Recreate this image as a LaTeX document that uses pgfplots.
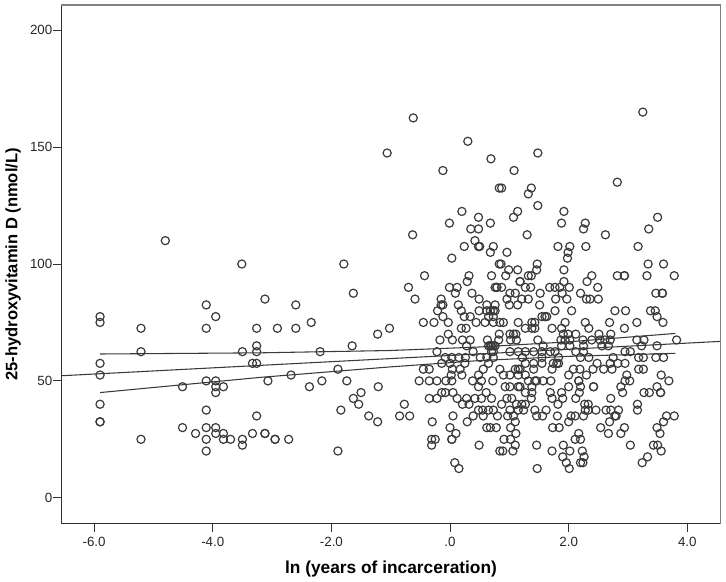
\documentclass[border=0pt]{standalone}
\usepackage{fontspec}
\setmainfont{Liberation Sans}
\usepackage{pgfplots}
\pgfplotsset{compat=1.18}
\definecolor{ax}{HTML}{303030}
\definecolor{fr}{HTML}{808080}
\definecolor{pt}{HTML}{3A3A3A}
\begin{document}
\begin{tikzpicture}
\begin{axis}[
 at={(0pt,0pt)},anchor=south west,
 scale only axis,width=494.25pt,height=389pt,
 xmin=-6.55,xmax=4.56,ymin=-11.1,ymax=210.8,
 axis line style={draw=none},
 clip=false,
 tick align=outside,
 xtick={-6,-4,-2,0,2,4},
 xticklabels={-6.0,-4.0,-2.0,.0,2.0,4.0},
 ytick={0,50,100,150,200},
 yticklabels={0,50,100,150,200},
 major tick length=6pt,
 tick style={draw=ax,line width=0.75pt},
 xtick pos=bottom,ytick pos=left,
 tick label style={font=\fontsize{10}{12}\selectfont,text=black!85},
 xticklabel style={yshift=-0.5pt},
 yticklabel style={xshift=2.6pt},
 xlabel={\bfseries ln (years of incarceration)},
 ylabel={\bfseries 25-hydroxyvitamin D (nmol/L)},
 xlabel style={font=\fontsize{13}{15}\selectfont,at={(axis description cs:0.5,0)},anchor=base,yshift=-37pt},
 ylabel style={font=\fontsize{12.4}{15}\selectfont,at={(axis description cs:0,0.5)},anchor=base,yshift=33pt},
]
\addplot[only marks,mark=o,mark size=3.05pt,mark options={draw=pt,line width=0.9pt},forget plot] coordinates {
(-5.9,77.5)(-5.9,75)(-5.9,57.5)(-5.9,52.5)(-5.9,40)(-5.9,32.5)(-5.9,32.5)
(-5.21,72.5)(-5.21,62.5)(-5.21,25)(-4.51,47.5)(-4.51,30)(-4.29,27.5)
(-4.11,82.5)(-4.11,72.5)(-4.11,50)(-4.11,37.5)(-4.11,30)(-4.11,25)(-4.11,20)
(-3.95,77.5)(-3.95,50)(-3.95,47.5)(-3.95,45)(-3.95,30)(-3.95,27.5)
(-3.82,47.5)(-3.82,27.5)(-3.82,25)(-3.70,25)(-3.50,62.5)(-3.50,25)(-3.50,22.5)
(-3.33,27.5)(-3.33,57.5)(-3.26,57.5)(-3.26,72.5)(-3.26,65)(-3.26,62.5)(-3.26,35)
(-3.12,85)(-3.12,27.5)(-3.07,50)(-2.95,25)(-2.91,72.5)(-4.80,110)(-3.51,100)
(-2.60,82.5)(-2.60,72.5)(-2.34,75)(-2.19,62.5)(-1.65,65)(-1.22,70)(-1.02,72.5)
(-2.68,52.5)(-2.37,47.5)(-2.16,50)(-1.89,55)(-1.74,50)(-1.50,45)(-1.63,42.5)(-1.54,40)
(-1.21,47.5)(-1.84,37.5)(-1.37,35)(-1.22,32.5)(-0.77,40)(-0.85,35)(-0.68,35)(-1.89,20)
(-3.12,27.5)(-2.95,25)(-2.72,25)
(-0.62,162.5)(0.30,152.5)(-1.06,147.5)(0.69,145)(-0.12,140)(0.83,132.5)(0.20,122.5)(0.48,120)
(-0.01,117.5)(0.68,117.5)(0.35,115)(0.48,115)(-0.63,112.5)(0.42,110)(0.24,107.5)(0.48,107.5)(0.50,107.5)(0.73,107.5)
(0.68,105)(0.03,102.5)(-1.79,100)(0.83,100)(0.32,95)(-0.43,95)(0.70,95)(0.29,92.5)
(-0.70,90)(-0.01,90)(0.12,90)(0.79,90)(0.79,90)(0.09,87.5)(0.37,87.5)(-1.63,87.5)(-0.59,85)(-0.15,85)(0.49,85)
(3.25,165)(1.48,147.5)(1.08,140)(0.87,132.5)(1.37,132.5)(1.32,130)(2.82,135)(1.48,125)(1.14,122.5)(1.07,120)
(1.92,122.5)(1.88,117.5)(2.28,117.5)(2.25,115)(3.50,120)(3.35,115)(1.30,112.5)(2.62,112.5)
(1.82,107.5)(2.02,107.5)(2.29,107.5)(3.17,107.5)(0.96,105)(1.99,105)(1.98,102.5)
(0.86,100)(1.47,100)(3.34,100)(3.60,100)(0.99,97.5)(1.14,97.5)(1.46,97.5)(1.92,97.5)
(0.94,95)(1.32,95)(1.37,95)(2.39,95)(2.82,95)(2.94,95)(2.94,95)(3.32,95)(3.78,95)
(1.18,92.5)(1.18,92.5)(1.92,92.5)(2.31,92.5)(0.76,90)(0.87,90)(1.27,90)(1.36,90)(1.68,90)(1.77,90)(1.85,90)(2.01,90)(2.49,90)
(1.01,87.5)(1.10,87.5)(1.52,87.5)(1.89,87.5)(2.20,87.5)(3.47,87.5)(3.58,87.5)(3.58,87.5)
(0.96,85)(1.21,85)(1.32,85)(1.78,85)(1.97,85)(2.30,85)(2.36,85)(2.50,85)
(0.76,82.5)(1.00,82.5)(1.14,82.5)(1.51,82.5)(-0.12,82.5)(0.14,82.5)(-0.15,82.5)(0.62,82.5)
(0.68,80)(0.76,80)(1.77,80)(2.05,80)(2.78,80)(2.96,80)(3.38,80)(3.46,80)(-0.21,80)(0.19,80)(0.49,80)(0.62,80)(0.73,80)
(1.55,77.5)(1.60,77.5)(1.63,77.5)(3.49,77.5)(-0.12,77.5)(0.24,77.5)(0.34,77.5)(0.65,77.5)(0.73,77.5)
(0.73,75)(0.84,75)(0.90,75)(1.15,75)(1.38,75)(1.43,75)(1.94,75)(2.28,75)(2.69,75)(3.15,75)(3.59,75)(-0.45,75)(-0.27,75)(-0.03,75)(0.44,75)(0.59,75)
(1.27,72.5)(1.38,72.5)(1.43,72.5)(1.72,72.5)(1.88,72.5)(2.34,72.5)(2.94,72.5)(0.19,72.5)(0.27,72.5)
(0.83,70)(1.01,70)(1.07,70)(1.11,70)(1.91,70)(1.99,70)(2.12,70)(2.51,70)(2.71,70)(-0.03,70)
(0.82,67.5)(1.02,67.5)(1.12,67.5)(1.48,67.5)(1.87,67.5)(1.94,67.5)(2.02,67.5)(2.24,67.5)(2.39,67.5)(2.53,67.5)(2.61,67.5)(2.70,67.5)(3.15,67.5)(3.27,67.5)(3.82,67.5)(-0.17,67.5)(0.04,67.5)(0.21,67.5)(0.34,67.5)(0.63,67.5)
(0.68,65)(0.73,65)(0.76,65)(1.57,65)(1.88,65)(2.02,65)(2.25,65)(2.56,65)(2.67,65)(3.23,65)(3.49,65)(0.28,65)(0.65,65)(0.70,65)
(0.70,62.5)(0.73,62.5)(1.01,62.5)(1.15,62.5)(1.27,62.5)(1.41,62.5)(1.55,62.5)(1.69,62.5)(1.77,62.5)(2.12,62.5)(2.25,62.5)(2.95,62.5)(3.04,62.5)(-0.22,62.5)(0.39,62.5)
(0.73,60)(1.22,60)(1.55,60)(1.83,60)(2.20,60)(2.34,60)(2.75,60)(3.18,60)(3.26,60)(3.47,60)(3.60,60)(-0.08,60)(0.03,60)(0.15,60)(0.26,60)(0.51,60)(0.62,60)
(1.27,57.5)(1.41,57.5)(1.55,57.5)(1.74,57.5)(1.80,57.5)(1.83,57.5)(2.48,57.5)(2.70,57.5)(2.83,57.5)(2.95,57.5)(-0.14,57.5)(0,57.5)(0.25,57.5)(0.65,57.5)
(0.84,55)(1.10,55)(1.15,55)(1.18,55)(1.41,55)(1.72,55)(2.08,55)(2.19,55)(2.41,55)(2.59,55)(2.73,55)(3.18,55)(3.26,55)(-0.45,55)(-0.35,55)(0.04,55)(0.17,55)(0.56,55)
(0.90,52.5)(1.01,52.5)(1.15,52.5)(1.27,52.5)(2.00,52.5)(2.30,52.5)(2.98,52.5)(3.56,52.5)(0.02,52.5)(0.20,52.5)(0.48,52.5)
(0.72,50)(1.32,50)(1.43,50)(1.46,50)(1.57,50)(1.70,50)(2.17,50)(2.17,50)(2.95,50)(3.03,50)(3.69,50)(-0.52,50)(-0.35,50)(-0.22,50)(-0.07,50)(0.03,50)(0.38,50)(0.53,50)
(0.93,47.5)(1.01,47.5)(1.15,47.5)(1.18,47.5)(1.38,47.5)(2.00,47.5)(2.20,47.5)(2.42,47.5)(2.42,47.5)(2.88,47.5)(3.49,47.5)(0.48,47.5)
(1.27,45)(1.38,45)(1.69,45)(1.88,45)(2.18,45)(2.91,45)(3.27,45)(3.36,45)(3.55,45)(3.55,45)(-0.14,45)(-0.08,45)(0.05,45)(0.61,45)
(0.70,42.5)(0.96,42.5)(1.04,42.5)(1.37,42.5)(1.72,42.5)(1.90,42.5)(2.12,42.5)(2.71,42.5)(-0.35,42.5)(-0.22,42.5)(0.12,42.5)(0.28,42.5)(0.42,42.5)(0.53,42.5)
(0.87,40)(1.12,40)(1.21,40)(1.27,40)(1.82,40)(2.27,40)(2.33,40)(3.16,40)(0.21,40)(0.32,40)
(0.73,37.5)(1.01,37.5)(1.15,37.5)(1.24,37.5)(1.43,37.5)(1.62,37.5)(2.28,37.5)(2.33,37.5)(2.46,37.5)(2.63,37.5)(2.71,37.5)(2.84,37.5)(3.16,37.5)(0.48,37.5)(0.55,37.5)(0.65,37.5)
(0.80,35)(0.97,35)(1.07,35)(1.46,35)(1.56,35)(1.81,35)(2.04,35)(2.11,35)(2.25,35)(2.78,35)(2.80,35)(3.65,35)(3.78,35)(0.05,35)(0.39,35)(0.56,35)
(1.10,32.5)(2.00,32.5)(2.69,32.5)(3.60,32.5)(-0.30,32.5)(0.29,32.5)
(0.68,30)(0.78,30)(1.02,30)(1.73,30)(1.84,30)(2.54,30)(2.94,30)(3.49,30)(0,30)(0.62,30)
(1.11,27.5)(2.17,27.5)(2.67,27.5)(2.88,27.5)(3.54,27.5)(0.10,27.5)
(0.91,25)(1.02,25)(2.11,25)(2.20,25)(-0.31,25)(-0.25,25)(0.03,25)(0.03,25)
(1.10,22.5)(1.46,22.5)(1.91,22.5)(3.04,22.5)(3.43,22.5)(3.50,22.5)(-0.31,22.5)(0.49,22.5)
(0.89,20)(1.06,20)(1.72,20)(2.02,20)(2.23,20)(3.56,20)(0.84,20)
(1.90,17.5)(2.26,17.5)(3.33,17.5)
(1.96,15)(2.20,15)(2.24,15)(3.24,15)(0.08,15)
(1.47,12.5)(2.01,12.5)(0.15,12.5)
};
\addplot[draw=pt,line width=0.8pt,forget plot] coordinates {(-6.55,52.2)(4.56,66.9)};
\addplot[draw=pt,line width=0.8pt,forget plot] coordinates {(-5.9,61.5)(-3.2,62)(-1,63)(0.5,64.5)(2,66.7)(3.8,70.3)};
\addplot[draw=pt,line width=0.8pt,forget plot] coordinates {(-5.9,45)(-3.2,51.5)(-1,56)(0.5,58.7)(2,60.5)(3.8,61.8)};
\draw[ax,line width=0.75pt] (rel axis cs:0,1)--(rel axis cs:0,0)--(rel axis cs:1,0);
\draw[fr,line width=1.1pt] (rel axis cs:0,1)--(rel axis cs:1,1)--(rel axis cs:1,0);
\end{axis}
\pgfresetboundingbox
\useasboundingbox (-46.125pt,-43.725pt) rectangle (498.375pt,392.775pt);
\end{tikzpicture}
\end{document}
